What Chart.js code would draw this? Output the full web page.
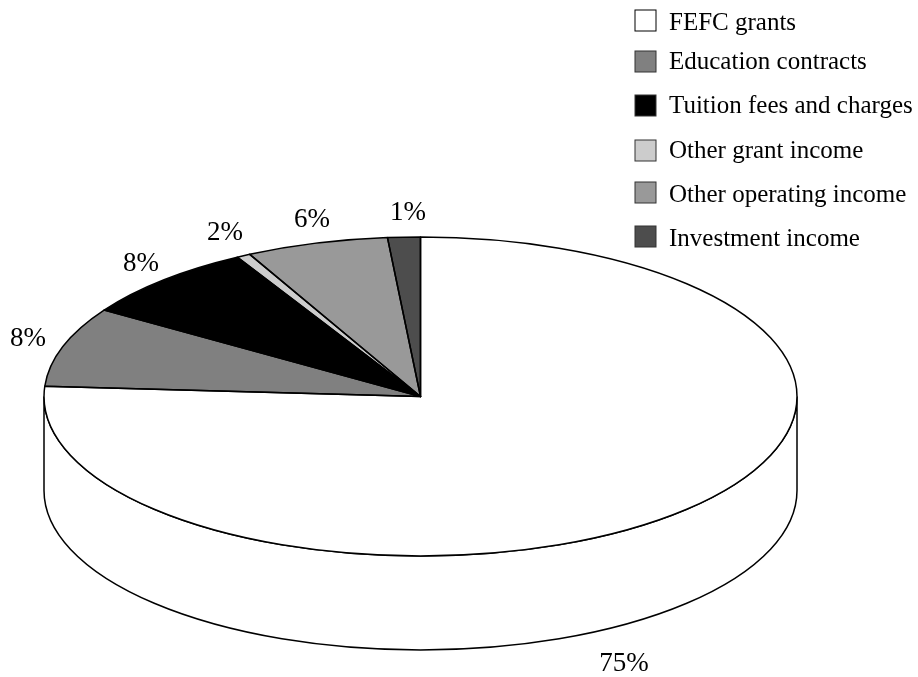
<!DOCTYPE html>
<html>
<head>
<meta charset="utf-8">
<style>
  html, body { margin: 0; padding: 0; background: #fff; }
  canvas { display: block; }
</style>
<script src="https://cdn.jsdelivr.net/npm/chart.js@4"></script>
</head>
<body>
<canvas id="pie" width="918" height="677"></canvas>
<script>
const categories = ['FEFC grants', 'Education contracts', 'Tuition fees and charges', 'Other grant income', 'Other operating income', 'Investment income'];
const shares = [76.1, 8.1, 7.8, 0.6, 6.1, 1.4];
const shareLabels = ['75%', '8%', '8%', '2%', '6%', '1%'];
const colors = ['#ffffff', '#808080', '#000000', '#cccccc', '#999999', '#4d4d4d'];

// Where the tilted pie sits on the page
const cx = 420.5, cy = 396.5, rx = 376.5, ry = 159.5, depth = 94;

const labelPos = [[624, 671], [28, 346], [141, 271], [225, 240], [312, 227], [408, 220]];
const legendY = [10, 51, 95, 140, 182, 226];
const legendBase = [30, 69, 113, 158, 202, 246];
const legendFont = '25px "Liberation Serif"';
const labelFont = '27px "Liberation Serif"';

const tiltedPie = {
  id: 'tiltedPie',
  beforeDatasetsDraw(chart) {
    const ctx = chart.ctx;
    const arcs = chart.getDatasetMeta(0).data;

    // side wall, only the part of each slice facing the viewer
    arcs.forEach((arc, i) => {
      const a = Math.max(arc.startAngle, 0);
      const b = Math.min(arc.endAngle, Math.PI);
      if (b <= a) return;
      ctx.beginPath();
      ctx.ellipse(cx, cy, rx, ry, 0, a, b);
      ctx.ellipse(cx, cy + depth, rx, ry, 0, b, a, true);
      ctx.closePath();
      ctx.fillStyle = colors[i];
      ctx.fill();
      ctx.lineWidth = 1.5;
      ctx.strokeStyle = '#000';
      ctx.stroke();
    });

    // squash the real arcs into the ellipse
    const first = arcs[0];
    ctx.save();
    ctx.translate(cx, cy);
    ctx.scale(rx / first.outerRadius, ry / first.outerRadius);
    ctx.translate(-first.x, -first.y);
  },
  afterDatasetsDraw(chart) {
    const ctx = chart.ctx;
    ctx.restore();

    // outlines go here so the pen width is not squashed too
    ctx.save();
    ctx.lineWidth = 1.5;
    ctx.lineJoin = 'round';
    ctx.strokeStyle = '#000';
    chart.getDatasetMeta(0).data.forEach(arc => {
      ctx.beginPath();
      ctx.moveTo(cx, cy);
      ctx.ellipse(cx, cy, rx, ry, 0, arc.startAngle, arc.endAngle);
      ctx.closePath();
      ctx.stroke();
    });
    ctx.restore();

    // percentage labels
    ctx.fillStyle = '#000';
    ctx.font = labelFont;
    ctx.textAlign = 'center';
    ctx.textBaseline = 'alphabetic';
    shareLabels.forEach((t, i) => ctx.fillText(t, labelPos[i][0], labelPos[i][1]));

    // legend
    ctx.font = legendFont;
    ctx.textAlign = 'left';
    categories.forEach((name, i) => {
      ctx.fillStyle = colors[i];
      ctx.fillRect(635, legendY[i], 21, 21);
      ctx.lineWidth = 1;
      ctx.strokeStyle = i === 0 ? '#000' : '#333';
      ctx.strokeRect(635, legendY[i], 21, 21);
      ctx.fillStyle = '#000';
      ctx.fillText(name, 669, legendBase[i]);
    });
  }
};

new Chart(document.getElementById('pie').getContext('2d'), {
  type: 'pie',
  data: {
    labels: categories,
    datasets: [{
      data: shares,
      backgroundColor: colors,
      borderWidth: 0
    }]
  },
  options: {
    responsive: false,
    animation: false,
    plugins: {
      legend: { display: false },
      tooltip: { enabled: false }
    }
  },
  plugins: [tiltedPie]
});
</script>
</body>
</html>
